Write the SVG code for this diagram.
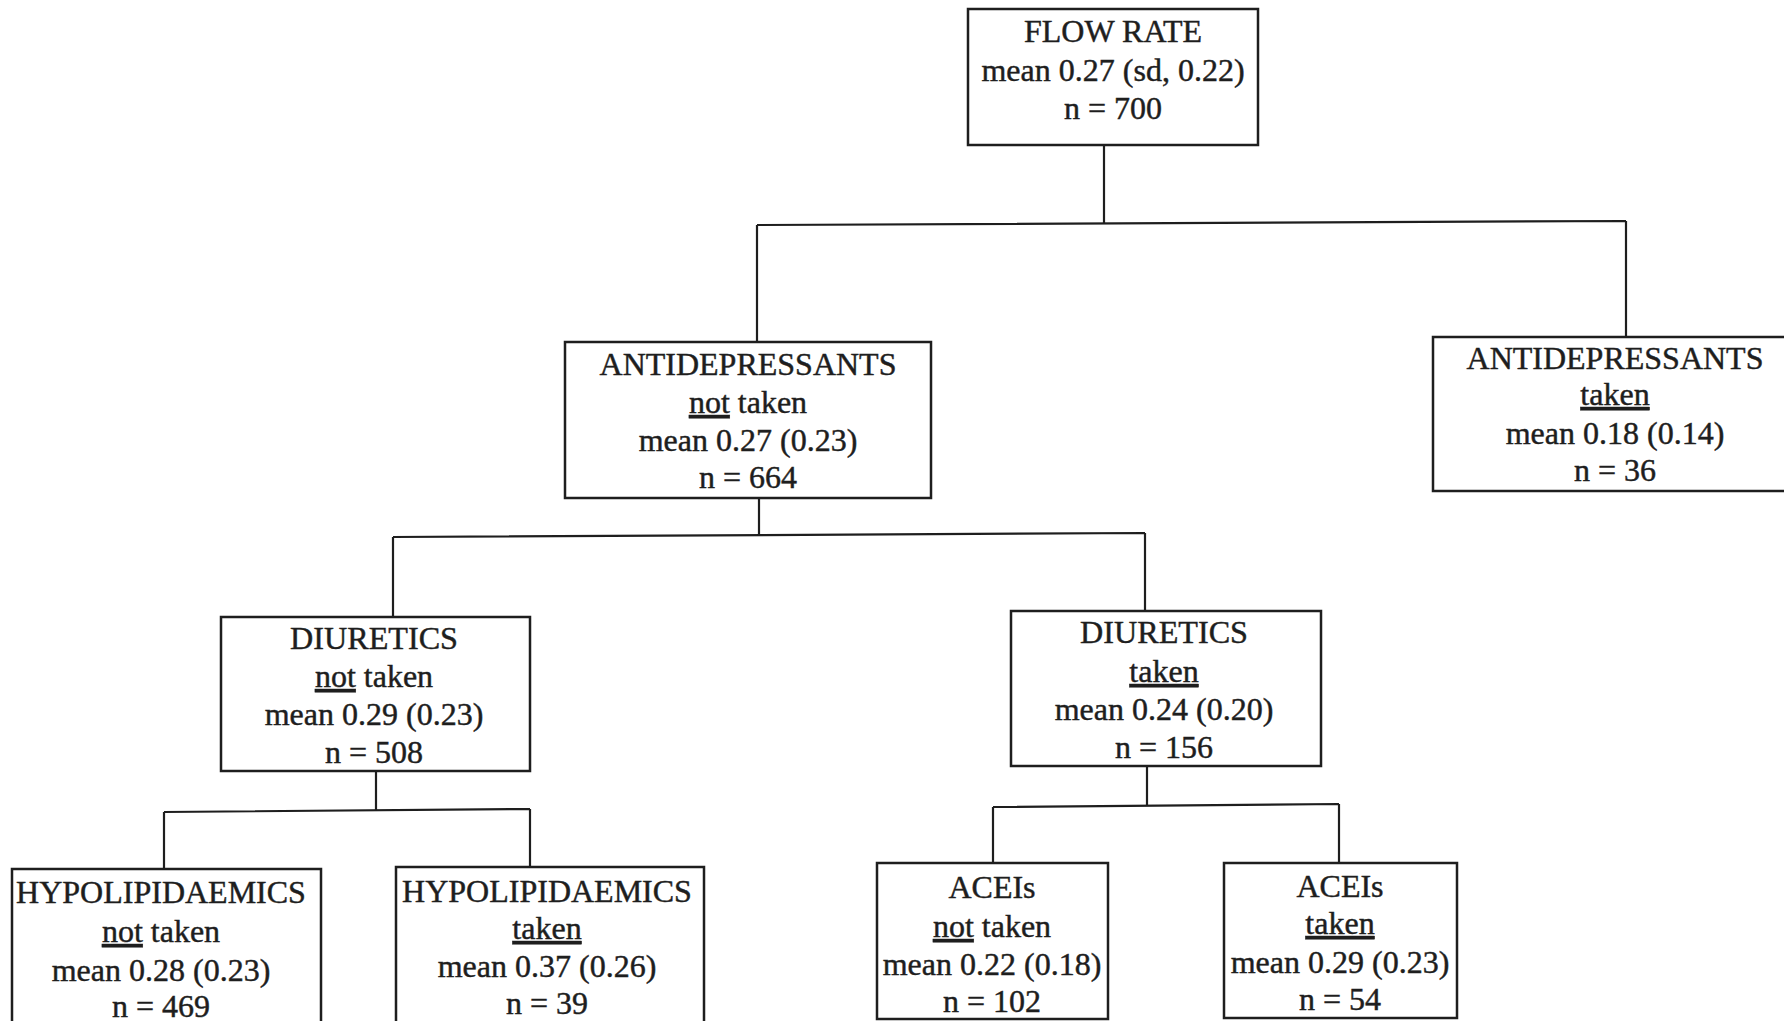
<svg xmlns="http://www.w3.org/2000/svg" width="1784" height="1021" viewBox="0 0 1784 1021">
  <style>
    .box { fill: #ffffff; stroke: #1e1e1e; stroke-width: 2.5; }
    .lbl { font-family: "Liberation Serif", "Times New Roman", serif; font-size: 32px; fill: #1e1e1e; stroke: #1e1e1e; stroke-width: 0.45; text-anchor: middle; }
    .u { text-decoration: underline; }
    .wire { fill: none; stroke: #1e1e1e; stroke-width: 2.2; }
  </style>
  <rect x="0" y="0" width="1784" height="1021" fill="#ffffff"/>

  <!-- tree connectors -->
  <g id="connectors">
    <path class="wire" d="M1104,145 V223 M757,225 L1626,221 M757,225 V342 M1626,221 V337"/>
    <path class="wire" d="M759,498 V536 M393,537 L1145,533 M393,537 V617 M1145,533 V611"/>
    <path class="wire" d="M376,771 V811 M164,812 L530,809 M164,812 V869 M530,809 V867"/>
    <path class="wire" d="M1147,766 V806 M993,807 L1339,804 M993,807 V863 M1339,804 V863"/>
  </g>

  <g id="flow-rate">
    <rect class="box" x="968" y="9" width="290" height="136"/>
    <text class="lbl" x="1113" y="42">FLOW RATE</text>
    <text class="lbl" x="1113" y="81">mean 0.27 (sd, 0.22)</text>
    <text class="lbl" x="1113" y="119">n = 700</text>
  </g>

  <g id="antidepressants-not-taken">
    <rect class="box" x="565" y="342" width="366" height="156"/>
    <text class="lbl" x="748" y="375">ANTIDEPRESSANTS</text>
    <text class="lbl" x="748" y="413"><tspan class="u">not</tspan> taken</text>
    <text class="lbl" x="748" y="451">mean 0.27 (0.23)</text>
    <text class="lbl" x="748" y="488">n = 664</text>
  </g>

  <g id="antidepressants-taken">
    <rect class="box" x="1433" y="337" width="400" height="154"/>
    <text class="lbl" x="1615" y="369">ANTIDEPRESSANTS</text>
    <text class="lbl" x="1615" y="405"><tspan class="u">taken</tspan></text>
    <text class="lbl" x="1615" y="444">mean 0.18 (0.14)</text>
    <text class="lbl" x="1615" y="481">n = 36</text>
  </g>

  <g id="diuretics-not-taken">
    <rect class="box" x="221" y="617" width="309" height="154"/>
    <text class="lbl" x="374" y="649" textLength="168" lengthAdjust="spacingAndGlyphs">DIURETICS</text>
    <text class="lbl" x="374" y="687"><tspan class="u">not</tspan> taken</text>
    <text class="lbl" x="374" y="725">mean 0.29 (0.23)</text>
    <text class="lbl" x="374" y="763">n = 508</text>
  </g>

  <g id="diuretics-taken">
    <rect class="box" x="1011" y="611" width="310" height="155"/>
    <text class="lbl" x="1164" y="643" textLength="168" lengthAdjust="spacingAndGlyphs">DIURETICS</text>
    <text class="lbl" x="1164" y="682"><tspan class="u">taken</tspan></text>
    <text class="lbl" x="1164" y="720">mean 0.24 (0.20)</text>
    <text class="lbl" x="1164" y="758">n = 156</text>
  </g>

  <g id="hypolipidaemics-not-taken">
    <rect class="box" x="12" y="869" width="309" height="170"/>
    <text class="lbl" x="161" y="903">HYPOLIPIDAEMICS</text>
    <text class="lbl" x="161" y="942"><tspan class="u">not</tspan> taken</text>
    <text class="lbl" x="161" y="981">mean 0.28 (0.23)</text>
    <text class="lbl" x="161" y="1017">n = 469</text>
  </g>

  <g id="hypolipidaemics-taken">
    <rect class="box" x="396" y="867" width="308" height="170"/>
    <text class="lbl" x="547" y="902">HYPOLIPIDAEMICS</text>
    <text class="lbl" x="547" y="939"><tspan class="u">taken</tspan></text>
    <text class="lbl" x="547" y="977">mean 0.37 (0.26)</text>
    <text class="lbl" x="547" y="1014">n = 39</text>
  </g>

  <g id="aceis-not-taken">
    <rect class="box" x="877" y="863" width="231" height="156"/>
    <text class="lbl" x="992" y="898">ACEIs</text>
    <text class="lbl" x="992" y="937"><tspan class="u">not</tspan> taken</text>
    <text class="lbl" x="992" y="975">mean 0.22 (0.18)</text>
    <text class="lbl" x="992" y="1012">n = 102</text>
  </g>

  <g id="aceis-taken">
    <rect class="box" x="1224" y="863" width="233" height="155"/>
    <text class="lbl" x="1340" y="897">ACEIs</text>
    <text class="lbl" x="1340" y="934"><tspan class="u">taken</tspan></text>
    <text class="lbl" x="1340" y="973">mean 0.29 (0.23)</text>
    <text class="lbl" x="1340" y="1010">n = 54</text>
  </g>
</svg>
